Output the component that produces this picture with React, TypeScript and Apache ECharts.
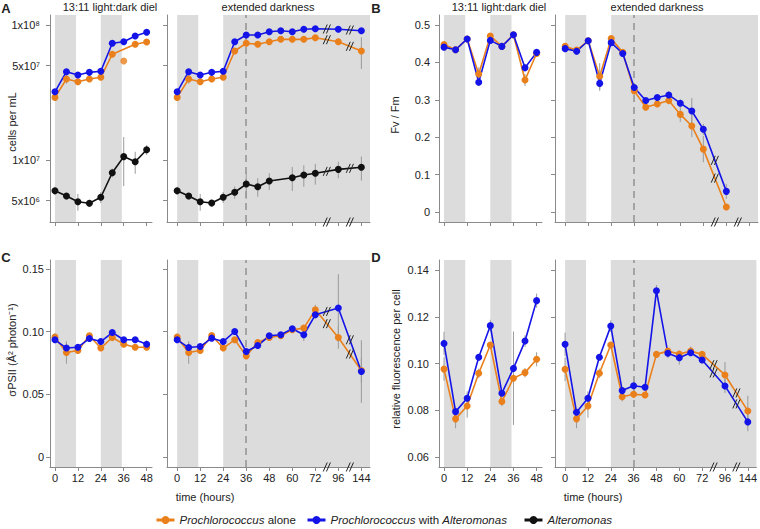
import React, { useEffect, useRef } from 'react';
import * as echarts from 'echarts';

// ---------------- time points (hours) ----------------
const hoursDiel = [0, 6, 12, 18, 24, 30, 36, 42, 48];
const hoursDark = [0, 6, 12, 18, 24, 30, 36, 42, 48, 54, 60, 66, 72, 96, 144];
const hoursDarkFvFm = [0, 6, 12, 18, 24, 30, 36, 42, 48, 54, 60, 66, 72, 96];
const tickHoursDiel = [0, 12, 24, 36, 48];
const tickHoursDark = [0, 12, 24, 36, 48, 60, 72, 96, 144];
const darkPeriodsDiel = [[0, 11], [24, 35]];
const darkPeriodsDark = [[0, 11], [24, Infinity]];
const extendedDarkStart = 36;
const breakGaps = [[72, 96], [96, 144]];

// ---------------- A: cells per mL ----------------
const cellTicks = [5e6, 1e7, 5e7, 1e8];
const cellTickLabels = ['5x10⁶', '1x10⁷', '5x10⁷', '1x10⁸'];
const cellsProAloneDiel = [2.91e7, 3.98e7, 3.80e7, 3.98e7, 4.10e7, 6.07e7, null, 7.19e7, 7.48e7];
const cellsProAloneDielOffLine = [[36, 5.41e7]];
const cellsProAloneDielSd = [0, 3e6, 0, 0, 0, 0, 0, 0, 0];
const cellsProWithDiel = [3.2e7, 4.51e7, 4.26e7, 4.46e7, 4.54e7, 7.32e7, 7.52e7, 8.29e7, 8.83e7];
const cellsProWithDielSd = [0, 2.5e6, 0, 0, 0, 0, 0, 0, 0];
const cellsAltDiel = [5.93e6, 5.41e6, 4.91e6, 4.78e6, 5.30e6, 8.05e6, 1.06e7, 9.71e6, 1.19e7];
const cellsAltDielSd = [4e5, 3e5, 7e5, 3e5, 5e5, 6e5, 4.2e6, 1.8e6, 1e6];
const cellsProAloneDark = [2.91e7, 3.98e7, 3.80e7, 3.98e7, 4.10e7, 6.42e7, 7.32e7, 7.19e7, 7.52e7, 7.83e7, 7.83e7, 7.83e7, 8.05e7, 7.52e7, 6.42e7];
const cellsProAloneDarkSd = [0, 3e6, 0, 0, 0, 0, 0, 0, 0, 0, 0, 0, 0, 4e6, 1.7e7];
const cellsProWithDark = [3.2e7, 4.51e7, 4.26e7, 4.46e7, 4.54e7, 7.52e7, 8.43e7, 8.43e7, 8.92e7, 9.07e7, 8.92e7, 9.29e7, 9.39e7, 9.29e7, 9.07e7];
const cellsProWithDarkSd = [0, 2.5e6, 0, 0, 0, 0, 0, 0, 0, 0, 0, 0, 0, 0, 0];
const cellsAltDark = [5.93e6, 5.41e6, 4.91e6, 4.80e6, 5.30e6, 5.77e6, 6.64e6, 6.34e6, 6.99e6, null, 7.39e6, 7.74e6, 7.97e6, 8.53e6, 8.83e6];
const cellsAltDarkSd = [4e5, 3e5, 7e5, 3e5, 5e5, 6e5, 1.5e6, 1e6, 1e6, 0, 1.5e6, 1.4e6, 1.4e6, 1.2e6, 1.8e6];

// ---------------- B: Fv / Fm ----------------
const fvfmTicks = [0, 0.1, 0.2, 0.3, 0.4, 0.5];
const fvfmProAloneDiel = [0.448, 0.434, 0.463, 0.369, 0.471, 0.443, 0.474, 0.353, 0.424];
const fvfmProAloneDielSd = [0.005, 0, 0, 0.018, 0, 0, 0, 0.016, 0];
const fvfmProWithDiel = [0.441, 0.434, 0.463, 0.347, 0.459, 0.443, 0.474, 0.386, 0.427];
const fvfmProWithDielSd = [0, 0, 0, 0.01, 0, 0, 0, 0.01, 0];
const fvfmProAloneDark = [0.443, 0.433, 0.458, 0.363, 0.464, 0.427, 0.324, 0.280, 0.289, 0.298, 0.261, 0.230, 0.168, 0.013];
const fvfmProAloneDarkSd = [0.005, 0, 0, 0.035, 0, 0, 0, 0, 0, 0.01, 0.02, 0.03, 0.035, 0];
const fvfmProWithDark = [0.437, 0.430, 0.458, 0.344, 0.453, 0.424, 0.333, 0.298, 0.306, 0.313, 0.291, 0.270, 0.221, 0.055];
const fvfmProWithDarkSd = [0, 0.01, 0, 0.02, 0, 0, 0, 0, 0, 0.01, 0.01, 0.035, 0.015, 0.02];

// ---------------- C: sigma PSII ----------------
const sigTicks = [0, 0.05, 0.1, 0.15];
const sigProAloneDiel = [0.0955, 0.0833, 0.0848, 0.0966, 0.0868, 0.0952, 0.0899, 0.0875, 0.0875];
const sigProAloneDielSd = [0.003, 0.009, 0, 0, 0, 0.003, 0, 0, 0];
const sigProWithDiel = [0.0934, 0.0868, 0.0875, 0.0944, 0.0920, 0.0992, 0.0934, 0.0934, 0.0899];
const sigProWithDielSd = [0, 0.004, 0, 0, 0, 0, 0, 0, 0.003];
const sigProAloneDark = [0.0955, 0.0833, 0.0848, 0.0968, 0.0868, 0.0934, 0.0806, 0.0912, 0.0952, 0.0966, 0.1014, 0.1027, 0.1173, 0.0952, 0.0689];
const sigProAloneDarkSd = [0.003, 0.009, 0, 0, 0, 0, 0, 0, 0, 0, 0, 0, 0.004, 0.009, 0.01];
const sigProWithDark = [0.0934, 0.0872, 0.0880, 0.0947, 0.0920, 0.1000, 0.0840, 0.0888, 0.0966, 0.0974, 0.1022, 0.0974, 0.1133, 0.1187, 0.0681];
const sigProWithDarkSd = [0, 0.004, 0, 0, 0, 0, 0, 0, 0, 0, 0, 0.005, 0.003, 0.027, 0.025];

// ---------------- D: relative fluorescence per cell ----------------
const rfTicks = [0.06, 0.08, 0.1, 0.12, 0.14];
const rfProAloneDiel = [0.0976, 0.0763, 0.0818, 0.0958, 0.1079, 0.0837, 0.0937, 0.0961, 0.1018];
const rfProAloneDielSd = [0.005, 0.004, 0.005, 0.002, 0, 0.002, 0.02, 0.002, 0.003];
const rfProWithDiel = [0.1086, 0.0794, 0.0851, 0.1027, 0.1162, 0.0873, 0.0979, 0.1096, 0.1269];
const rfProWithDielSd = [0.005, 0, 0.003, 0, 0.0025, 0, 0, 0.0025, 0.003];
const rfProAloneDark = [0.0975, 0.0763, 0.0818, 0.0958, 0.1079, 0.0858, 0.0868, 0.0865, 0.1039, 0.1053, 0.1041, 0.1053, 0.1039, 0.0951, 0.0797];
const rfProAloneDarkSd = [0.005, 0.004, 0.005, 0.002, 0, 0.002, 0, 0, 0, 0, 0, 0.002, 0, 0.0055, 0.0065];
const rfProWithDark = [0.1082, 0.0791, 0.0851, 0.1027, 0.1160, 0.0884, 0.0905, 0.0898, 0.1311, 0.1044, 0.1025, 0.1046, 0.1015, 0.0904, 0.0750];
const rfProWithDarkSd = [0.005, 0, 0.003, 0, 0.0025, 0, 0, 0, 0.0025, 0.002, 0.003, 0, 0, 0.003, 0.004];

// ---------------- styles / layout ----------------
const NAME_ALONE = 'Prochlorococcus alone';
const NAME_WITH = 'Prochlorococcus with Alteromonas';
const NAME_ALT = 'Alteromonas';
const ORANGE = '#EA801C';
const BLUE = '#1414E8';
const BLACK = '#111111';
const SHADE = '#dcdcdc';
const AXIS = '#8a8a8a';
const TXT = '#222222';
const FONT = "'Liberation Sans', Arial, Helvetica, sans-serif";

const X_DIEL = { min: -2.6, max: 50.8 };
const X_DARK = { min: -5.3, max: 100.5 };

const GRIDS = [
  { left: 50, top: 15, width: 102, height: 207 },
  { left: 167, top: 15, width: 203, height: 207 },
  { left: 439, top: 15, width: 103, height: 207 },
  { left: 555, top: 15, width: 203, height: 207 },
  { left: 50, top: 260, width: 102, height: 207 },
  { left: 167, top: 260, width: 203, height: 207 },
  { left: 439, top: 260, width: 103, height: 207 },
  { left: 555, top: 260, width: 203, height: 207 },
];

const xBroken = (h: number) => (h <= 72 ? h : h <= 96 ? 72 + (h - 72) / 2 : 84 + (h - 96) / 4);
const ident = (h: number) => h;
const lg = (v: number) => Math.log10(v);

type Spec = { name: string; color: string; hours: number[]; values: (number | null)[]; sd: number[] };
type Panel = {
  g: number; dark: boolean; specs: Spec[]; yf: (v: number) => number;
  yMin: number; yMax: number; yTicks: number[]; yFmt: (v: number) => string;
  yLabels: boolean; yMargin: number; xLabels: boolean;
};

function slashes(cx: number, cy: number) {
  const mk = (dx: number) => ({
    type: 'line',
    shape: { x1: cx + dx - 2, y1: cy + 4.5, x2: cx + dx + 2, y2: cy - 4.5 },
    style: { stroke: '#222', lineWidth: 1 },
  });
  return { type: 'group', children: [mk(-1.6), mk(1.6)] };
}

function panelSeries(p: Panel) {
  const xf = p.dark ? xBroken : ident;
  const xMax = p.dark ? X_DARK.max : X_DIEL.max;
  const periods = p.dark ? darkPeriodsDark : darkPeriodsDiel;
  const out: any[] = [];
  out.push({
    type: 'line', xAxisIndex: p.g, yAxisIndex: p.g, data: [], silent: true, z: 1,
    markArea: {
      silent: true, z: 0, itemStyle: { color: SHADE },
      data: periods.map(([a, b]) => [{ xAxis: xf(a) }, { xAxis: Math.min(xf(b), xMax) }]),
    },
    markLine: p.dark ? {
      silent: true, z: 1, symbol: ['none', 'none'], label: { show: false },
      lineStyle: { color: '#a4a4a4', width: 2, type: [7, 5] },
      emphasis: { disabled: true },
      data: [{ xAxis: xf(extendedDarkStart) }],
    } : undefined,
  });
  const errData: number[][] = [];
  p.specs.forEach((s) => s.hours.forEach((h, i) => {
    const v = s.values[i];
    const e = s.sd[i];
    if (v == null || !e) return;
    errData.push([xf(h), p.yf(v - e), p.yf(v + e)]);
  }));
  out.push({
    type: 'custom', xAxisIndex: p.g, yAxisIndex: p.g, silent: true, z: 2, data: errData,
    encode: { x: 0, y: [1, 2] },
    renderItem: (_: any, api: any) => {
      const a = api.coord([api.value(0), api.value(1)]);
      const b = api.coord([api.value(0), api.value(2)]);
      return { type: 'line', shape: { x1: a[0], y1: a[1], x2: b[0], y2: b[1] }, style: { stroke: '#9a9a9a', lineWidth: 1 } };
    },
  });
  p.specs.forEach((s) => {
    const data = s.hours
      .map((h, i) => (s.values[i] == null ? null : [xf(h), p.yf(s.values[i] as number)]))
      .filter((d) => d != null);
    out.push({
      type: 'line', name: s.name, xAxisIndex: p.g, yAxisIndex: p.g, data,
      symbol: 'circle', symbolSize: 7, showSymbol: true, silent: true, z: 3,
      lineStyle: { color: s.color, width: 1.6 }, itemStyle: { color: s.color },
      emphasis: { disabled: true },
    });
  });
  if (p.dark) {
    const bm: number[][] = [];
    breakGaps.forEach(([a, b]) => bm.push([(xf(a) + xf(b)) / 2, p.yMin]));
    p.specs.forEach((s) => breakGaps.forEach(([a, b]) => {
      const ia = s.hours.indexOf(a);
      const ib = s.hours.indexOf(b);
      if (ia < 0 || ib < 0) return;
      const va = s.values[ia];
      const vb = s.values[ib];
      if (va == null || vb == null) return;
      bm.push([(xf(a) + xf(b)) / 2, (p.yf(va) + p.yf(vb)) / 2]);
    }));
    out.push({
      type: 'custom', xAxisIndex: p.g, yAxisIndex: p.g, silent: true, z: 5, clip: false, data: bm,
      renderItem: (_: any, api: any) => {
        const c = api.coord([api.value(0), api.value(1)]);
        return slashes(c[0], c[1]);
      },
    });
  }
  return out;
}

function xAxisOf(g: number, dark: boolean, labels: boolean) {
  const ticks = dark ? tickHoursDark.map(xBroken) : tickHoursDiel;
  const hours = dark ? tickHoursDark : tickHoursDiel;
  return {
    type: 'value', gridIndex: g,
    min: dark ? X_DARK.min : X_DIEL.min, max: dark ? X_DARK.max : X_DIEL.max,
    axisLine: { show: true, onZero: false, lineStyle: { color: AXIS, width: 1 } },
    axisTick: { show: true, length: 4, customValues: ticks, lineStyle: { color: AXIS } },
    axisLabel: {
      show: labels, customValues: ticks, fontSize: 11, color: TXT, margin: 5, fontFamily: FONT,
      formatter: (v: number) => {
        const i = ticks.findIndex((t) => Math.abs(t - v) < 1e-6);
        return i >= 0 ? String(hours[i]) : '';
      },
    },
    splitLine: { show: false },
  };
}

function yAxisOf(p: Panel) {
  return {
    type: 'value', gridIndex: p.g, min: p.yMin, max: p.yMax,
    axisLine: { show: true, onZero: false, lineStyle: { color: AXIS, width: 1 } },
    axisTick: { show: true, length: 4, customValues: p.yTicks, lineStyle: { color: AXIS } },
    axisLabel: {
      show: p.yLabels, customValues: p.yTicks, formatter: p.yFmt,
      fontSize: 11, color: TXT, margin: p.yMargin, fontFamily: FONT,
    },
    splitLine: { show: false },
  };
}

function buildOption() {
  const cellTickPos = cellTicks.map(lg);
  const fmtCells = (v: number) => {
    const i = cellTickPos.findIndex((t) => Math.abs(t - v) < 1e-6);
    return i >= 0 ? cellTickLabels[i] : '';
  };
  const fmtFvFm = (v: number) => (Math.abs(v) < 1e-9 ? '0' : v.toFixed(1));
  const fmt2 = (v: number) => (Math.abs(v) < 1e-9 ? '0' : v.toFixed(2));

  const A = { yf: lg, yMin: 6.541, yMax: 8.074, yTicks: cellTickPos, yFmt: fmtCells, yMargin: 10, xLabels: false };
  const B = { yf: ident, yMin: -0.027, yMax: 0.527, yTicks: fvfmTicks, yFmt: fmtFvFm, yMargin: 9, xLabels: false };
  const C = { yf: ident, yMin: -0.008, yMax: 0.157, yTicks: sigTicks, yFmt: fmt2, yMargin: 6, xLabels: true };
  const D = { yf: ident, yMin: 0.0557, yMax: 0.1443, yTicks: rfTicks, yFmt: fmt2, yMargin: 10, xLabels: true };

  const sp = (name: string, color: string, hours: number[], values: (number | null)[], sd: number[]): Spec =>
    ({ name, color, hours, values, sd });

  const panels: Panel[] = [
    { g: 0, dark: false, yLabels: true, ...A, specs: [
      sp(NAME_ALONE, ORANGE, hoursDiel, cellsProAloneDiel, cellsProAloneDielSd),
      sp(NAME_WITH, BLUE, hoursDiel, cellsProWithDiel, cellsProWithDielSd),
      sp(NAME_ALT, BLACK, hoursDiel, cellsAltDiel, cellsAltDielSd)] },
    { g: 1, dark: true, yLabels: false, ...A, specs: [
      sp(NAME_ALONE, ORANGE, hoursDark, cellsProAloneDark, cellsProAloneDarkSd),
      sp(NAME_WITH, BLUE, hoursDark, cellsProWithDark, cellsProWithDarkSd),
      sp(NAME_ALT, BLACK, hoursDark, cellsAltDark, cellsAltDarkSd)] },
    { g: 2, dark: false, yLabels: true, ...B, specs: [
      sp(NAME_ALONE, ORANGE, hoursDiel, fvfmProAloneDiel, fvfmProAloneDielSd),
      sp(NAME_WITH, BLUE, hoursDiel, fvfmProWithDiel, fvfmProWithDielSd)] },
    { g: 3, dark: true, yLabels: false, ...B, specs: [
      sp(NAME_ALONE, ORANGE, hoursDarkFvFm, fvfmProAloneDark, fvfmProAloneDarkSd),
      sp(NAME_WITH, BLUE, hoursDarkFvFm, fvfmProWithDark, fvfmProWithDarkSd)] },
    { g: 4, dark: false, yLabels: true, ...C, specs: [
      sp(NAME_ALONE, ORANGE, hoursDiel, sigProAloneDiel, sigProAloneDielSd),
      sp(NAME_WITH, BLUE, hoursDiel, sigProWithDiel, sigProWithDielSd)] },
    { g: 5, dark: true, yLabels: false, ...C, specs: [
      sp(NAME_ALONE, ORANGE, hoursDark, sigProAloneDark, sigProAloneDarkSd),
      sp(NAME_WITH, BLUE, hoursDark, sigProWithDark, sigProWithDarkSd)] },
    { g: 6, dark: false, yLabels: true, ...D, specs: [
      sp(NAME_ALONE, ORANGE, hoursDiel, rfProAloneDiel, rfProAloneDielSd),
      sp(NAME_WITH, BLUE, hoursDiel, rfProWithDiel, rfProWithDielSd)] },
    { g: 7, dark: true, yLabels: false, ...D, specs: [
      sp(NAME_ALONE, ORANGE, hoursDark, rfProAloneDark, rfProAloneDarkSd),
      sp(NAME_WITH, BLUE, hoursDark, rfProWithDark, rfProWithDarkSd)] },
  ];

  const series: any[] = [];
  panels.forEach((p) => series.push(...panelSeries(p)));
  series.push({
    type: 'scatter', name: 'off-line point', xAxisIndex: 0, yAxisIndex: 0, silent: true, z: 3,
    data: cellsProAloneDielOffLine.map(([h, v]) => [h, lg(v)]),
    symbol: 'circle', symbolSize: 7, itemStyle: { color: ORANGE },
  });

  const txt = (text: string, x: number, y: number, extra: any = {}) => ({
    type: 'text', x, y, silent: true, rotation: extra.rotation || 0,
    style: {
      text, fill: TXT, font: `${extra.weight || 'normal'} ${extra.size || 11}px ${FONT}`,
      align: 'center', verticalAlign: 'middle', textAlign: 'center', textVerticalAlign: 'middle',
    },
  });

  const legendFmt = (n: string) =>
    n === NAME_ALONE ? '{i|Prochlorococcus} alone'
      : n === NAME_WITH ? '{i|Prochlorococcus} with {i|Alteromonas}'
        : '{i|Alteromonas}';
  const legendLeft = [155, 306, 523];

  return {
    animation: false,
    backgroundColor: '#ffffff',
    textStyle: { fontFamily: FONT },
    grid: GRIDS.map((g) => ({ ...g, containLabel: false })),
    xAxis: panels.map((p) => xAxisOf(p.g, p.dark, p.xLabels)),
    yAxis: panels.map((p) => yAxisOf(p)),
    legend: [NAME_ALONE, NAME_WITH, NAME_ALT].map((n, i) => ({
      data: [n], left: legendLeft[i], top: 514, padding: 0, itemWidth: 18, itemHeight: 10,
      selectedMode: false, formatter: legendFmt,
      lineStyle: { width: 3 },
      textStyle: {
        fontSize: 11.5, color: TXT, fontFamily: FONT,
        rich: { i: { fontStyle: 'italic', fontSize: 11.5, color: TXT, fontFamily: FONT } },
      },
    })),
    graphic: [
      txt('A', 6, 8, { weight: 'bold', size: 13 }),
      txt('B', 376, 8, { weight: 'bold', size: 13 }),
      txt('C', 6, 257, { weight: 'bold', size: 13 }),
      txt('D', 376, 257, { weight: 'bold', size: 13 }),
      txt('13:11 light:dark diel', 110, 7),
      txt('extended darkness', 268, 7),
      txt('13:11 light:dark diel', 499, 7),
      txt('extended darkness', 657, 7),
      txt('cells per mL', 12, 122, { rotation: Math.PI / 2 }),
      txt('Fv / Fm', 395, 115, { rotation: Math.PI / 2 }),
      txt('σPSII (Å² photon⁻¹)', 12, 350, { rotation: Math.PI / 2 }),
      txt('relative fluorescence per cell', 396, 359, { rotation: Math.PI / 2 }),
      txt('time (hours)', 205, 497),
      txt('time (hours)', 593, 497),
    ],
    series,
  };
}

export default function App() {
  const ref = useRef<HTMLDivElement>(null);
  useEffect(() => {
    if (!ref.current) return;
    const chart = echarts.init(ref.current, null, { renderer: 'svg' });
    chart.setOption(buildOption() as any);
    return () => chart.dispose();
  }, []);
  return (
    <div
      ref={ref}
      style={{ position: 'absolute', left: 0, top: 0, width: 760, height: 529, background: '#fff' }}
    />
  );
}
